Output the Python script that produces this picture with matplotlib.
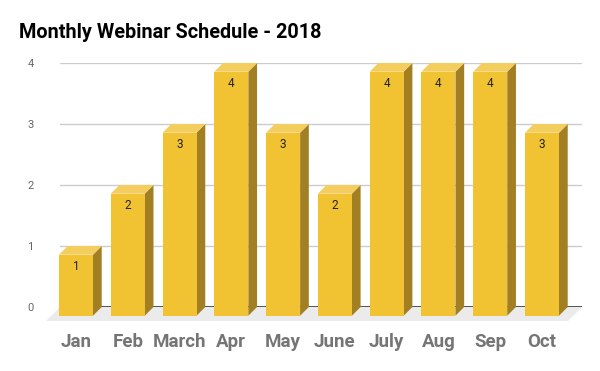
import numpy as np
import matplotlib
matplotlib.use('Agg')
import matplotlib.pyplot as plt
from matplotlib.patches import Polygon

months = ['Jan', 'Feb', 'March', 'Apr', 'May', 'June', 'July', 'Aug', 'Sep', 'Oct']
webinars = [1, 2, 3, 4, 3, 2, 4, 4, 4, 3]

plt.rcParams['font.family'] = ['Roboto', 'DejaVu Sans']

fig = plt.figure(figsize=(6, 3.71), dpi=100)
# axes spans the plot area between the gridlines (pixel x 60..582, y 63..307)
ax = fig.add_axes([60 / 600, (371 - 307) / 371, 522 / 600, 244 / 371])
ax.set_xlim(-0.477, 9.604)
ax.set_ylim(0, 4)

px_x = 51.78   # pixels per category
px_y = 61.0    # pixels per unit
dx = 8.7 / px_x
dy = 8.7 / px_y
w = 34 / px_x

front = '#F1C232'
top = '#F3CD5E'
side = '#A27F22'

# gridlines
for v in [1, 2, 3, 4]:
    ax.axhline(v, color='#CCCCCC', lw=1, zorder=0)

# floor
fdx = 14 / px_x
fdy = 14 / px_y
xl, xr = ax.get_xlim()
floor = Polygon([(xl, 0), (xr, 0), (xr - fdx, -fdy), (xl - fdx, -fdy)],
                closed=True, fc='#EBEBEB', ec='none', clip_on=False, zorder=1)
ax.add_patch(floor)
ax.axhline(0, color='#333333', lw=1.2, zorder=2)

x = np.arange(len(months))
for xi, v in zip(x, webinars):
    bl = xi - w / 2   # back face left
    # front face
    fl = bl - dx
    fb = -dy
    ft = v - dy
    ax.add_patch(Polygon([(fl, fb), (fl + w, fb), (fl + w, ft), (fl, ft)],
                         fc=front, ec='none', clip_on=False, zorder=5))
    # right side
    ax.add_patch(Polygon([(fl + w, fb), (bl + w, 0), (bl + w, v), (fl + w, ft)],
                         fc=side, ec='none', clip_on=False, zorder=4))
    # top
    ax.add_patch(Polygon([(fl, ft), (fl + w, ft), (bl + w, v), (bl, v)],
                         fc=top, ec='none', clip_on=False, zorder=4))
    ax.text(fl + w / 2, ft - 12 / px_y, str(v), ha='center', va='center',
            fontsize=8.5, color='#222222', zorder=6)

ax.set_yticks([0, 1, 2, 3, 4])
ax.set_yticklabels(['0', '1', '2', '3', '4'], color='#666666', fontsize=8)
ax.set_xticks(x - dx)
ax.set_xticklabels(months, color='#757575', fontsize=13.5, fontweight='bold')
ax.tick_params(axis='y', length=0, pad=19)
ax.tick_params(axis='x', length=0, pad=19)
for s in ax.spines.values():
    s.set_visible(False)

fig.text(19 / 600, 1 - 32 / 371, 'Monthly Webinar Schedule - 2018',
         fontsize=14.3, fontweight='bold', color='black', va='center', ha='left')

fig.savefig('out.png', dpi=100)
